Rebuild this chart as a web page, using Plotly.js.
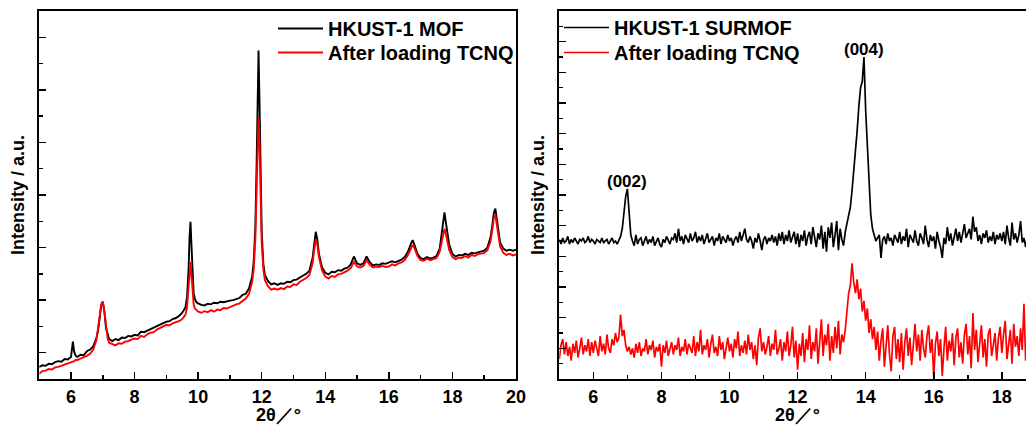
<!DOCTYPE html>
<html>
<head>
<meta charset="utf-8">
<script src="https://cdn.plot.ly/plotly-3.0.1.min.js"></script>
<style>html,body{margin:0;padding:0;background:#fff;}#chart{width:1026px;height:426px;}</style>
</head>
<body>
<div id="chart"></div>
<script>
// ---------- Left panel: HKUST-1 MOF powder ----------
const xMOF = [5.0,5.1,5.2,5.3,5.4,5.5,5.6,5.7,5.8,5.9,6.0,6.03,6.06,6.1,6.15,6.2,6.3,6.4,6.5,6.6,6.7,6.8,6.85,6.9,6.95,7.0,7.05,7.1,7.15,7.2,7.3,7.4,7.5,7.6,7.7,7.8,7.9,8.0,8.1,8.2,8.3,8.4,8.5,8.6,8.7,8.8,8.9,9.0,9.1,9.2,9.3,9.4,9.5,9.6,9.65,9.7,9.73,9.76,9.79,9.82,9.86,9.9,9.95,10.0,10.1,10.2,10.3,10.4,10.5,10.6,10.7,10.8,10.9,11.0,11.1,11.2,11.3,11.4,11.5,11.6,11.7,11.75,11.8,11.84,11.87,11.9,11.93,11.96,12.0,12.05,12.1,12.2,12.3,12.4,12.5,12.6,12.7,12.8,12.9,13.0,13.1,13.2,13.3,13.4,13.5,13.6,13.65,13.7,13.75,13.8,13.9,14.0,14.1,14.2,14.3,14.4,14.5,14.6,14.7,14.8,14.9,15.0,15.1,15.2,15.3,15.4,15.5,15.6,15.7,15.8,15.9,16.0,16.1,16.2,16.3,16.4,16.5,16.6,16.7,16.75,16.8,16.9,17.0,17.1,17.2,17.3,17.4,17.5,17.6,17.7,17.75,17.8,17.9,18.0,18.1,18.2,18.3,18.4,18.5,18.6,18.7,18.8,18.9,19.0,19.1,19.2,19.25,19.3,19.35,19.4,19.45,19.5,19.6,19.7,19.8,19.9,20.0];
const yMOF = [0.23,0.26,0.25,0.29,0.28,0.32,0.34,0.33,0.38,0.37,0.42,0.58,0.71,0.52,0.44,0.42,0.46,0.45,0.53,0.56,0.62,0.78,0.92,1.15,1.40,1.47,1.28,0.98,0.84,0.76,0.72,0.76,0.74,0.79,0.78,0.82,0.81,0.84,0.83,0.90,0.89,0.92,0.95,0.98,1.01,1.03,1.06,1.09,1.10,1.14,1.16,1.20,1.26,1.36,1.55,2.10,2.70,2.99,2.55,1.95,1.62,1.52,1.46,1.44,1.41,1.40,1.43,1.42,1.45,1.44,1.47,1.46,1.48,1.49,1.50,1.52,1.54,1.60,1.62,1.72,1.95,2.25,2.90,4.10,5.40,6.25,5.30,3.90,2.80,2.20,1.98,1.86,1.80,1.82,1.79,1.82,1.81,1.85,1.84,1.88,1.89,1.93,1.96,2.00,2.06,2.30,2.55,2.80,2.65,2.38,2.12,2.02,1.99,2.04,2.03,2.07,2.06,2.10,2.12,2.18,2.33,2.20,2.17,2.20,2.33,2.22,2.16,2.18,2.17,2.20,2.19,2.21,2.24,2.22,2.25,2.27,2.32,2.42,2.58,2.64,2.56,2.38,2.30,2.28,2.32,2.29,2.31,2.34,2.48,2.90,3.17,2.95,2.55,2.38,2.33,2.36,2.35,2.38,2.36,2.40,2.39,2.41,2.43,2.44,2.50,2.70,2.90,3.15,3.24,3.05,2.80,2.60,2.48,2.44,2.46,2.44,2.46];
const yMOFTCNQ = [0.10,0.15,0.16,0.19,0.18,0.22,0.23,0.25,0.27,0.29,0.31,0.32,0.33,0.34,0.36,0.36,0.39,0.41,0.44,0.48,0.56,0.74,0.92,1.18,1.42,1.47,1.30,0.96,0.78,0.69,0.66,0.64,0.68,0.67,0.71,0.72,0.75,0.77,0.76,0.82,0.80,0.85,0.88,0.89,0.94,0.97,1.00,1.03,1.02,1.06,1.08,1.10,1.14,1.22,1.36,1.75,2.10,2.23,1.98,1.62,1.42,1.34,1.30,1.28,1.26,1.29,1.27,1.31,1.28,1.32,1.31,1.35,1.34,1.37,1.39,1.42,1.44,1.49,1.53,1.62,1.85,2.10,2.65,3.60,4.50,4.98,4.50,3.50,2.60,2.10,1.88,1.76,1.70,1.72,1.70,1.73,1.71,1.76,1.75,1.80,1.79,1.85,1.88,1.92,1.98,2.20,2.45,2.64,2.56,2.32,2.06,1.95,1.91,1.96,1.94,1.99,2.00,2.03,2.06,2.11,2.23,2.14,2.12,2.15,2.26,2.17,2.12,2.14,2.13,2.15,2.13,2.14,2.18,2.16,2.20,2.22,2.26,2.36,2.50,2.55,2.50,2.34,2.26,2.25,2.29,2.26,2.28,2.30,2.42,2.72,2.86,2.74,2.45,2.32,2.28,2.31,2.30,2.34,2.31,2.36,2.34,2.37,2.39,2.40,2.45,2.62,2.82,3.05,3.12,2.95,2.72,2.52,2.40,2.36,2.38,2.35,2.37];

// ---------- Right panel: HKUST-1 SURMOF ----------
const xSURMOF = [5,5.05,5.1,5.15,5.2,5.25,5.3,5.35,5.4,5.45,5.5,5.55,5.6,5.65,5.7,5.75,5.8,5.85,5.9,5.95,
6,6.05,6.1,6.15,6.2,6.25,6.3,6.35,6.4,6.45,6.5,6.55,6.6,6.65,6.7,6.75,6.8,6.85,6.9,6.95,
7,7.05,7.1,7.15,7.2,7.25,7.3,7.35,7.4,7.45,7.5,7.55,7.6,7.65,7.7,7.75,7.8,7.85,7.9,7.95,
8,8.05,8.1,8.15,8.2,8.25,8.3,8.35,8.4,8.45,8.5,8.55,8.6,8.65,8.7,8.75,8.8,8.85,8.9,8.95,
9,9.05,9.1,9.15,9.2,9.25,9.3,9.35,9.4,9.45,9.5,9.55,9.6,9.65,9.7,9.75,9.8,9.85,9.9,9.95,
10,10.05,10.1,10.15,10.2,10.25,10.3,10.35,10.4,10.45,10.5,10.55,10.6,10.65,10.7,10.75,10.8,10.85,10.9,10.95,
11,11.05,11.1,11.15,11.2,11.25,11.3,11.35,11.4,11.45,11.5,11.55,11.6,11.65,11.7,11.75,11.8,11.85,11.9,11.95,
12,12.05,12.1,12.15,12.2,12.25,12.3,12.35,12.4,12.45,12.5,12.55,12.6,12.65,12.7,12.75,12.8,12.85,12.9,12.95,
13,13.05,13.1,13.15,13.2,13.25,13.3,13.35,13.4,13.45,13.5,13.55,13.6,13.65,13.7,13.75,13.8,13.85,13.9,13.95,
14,14.05,14.1,14.15,14.2,14.25,14.3,14.35,14.4,14.45,14.5,14.55,14.6,14.65,14.7,14.75,14.8,14.85,14.9,14.95,
15,15.05,15.1,15.15,15.2,15.25,15.3,15.35,15.4,15.45,15.5,15.55,15.6,15.65,15.7,15.75,15.8,15.85,15.9,15.95,
16,16.05,16.1,16.15,16.2,16.25,16.3,16.35,16.4,16.45,16.5,16.55,16.6,16.65,16.7,16.75,16.8,16.85,16.9,16.95,
17,17.05,17.1,17.15,17.2,17.25,17.3,17.35,17.4,17.45,17.5,17.55,17.6,17.65,17.7,17.75,17.8,17.85,17.9,17.95,
18,18.05,18.1,18.15,18.2,18.25,18.3,18.35,18.4,18.45,18.5,18.55,18.6,18.65,18.7,18.75];
const ySURMOF = [9.1,8.8,9.2,8.9,9.0,9.3,8.8,9.1,8.9,9.2,9.0,8.8,9.1,9.0,9.2,8.9,9.0,9.3,8.9,9.1,
9.0,8.8,9.1,9.0,8.9,9.2,8.9,9.0,9.1,8.8,9.0,9.2,8.9,9.0,8.8,9.1,9.3,9.8,10.8,11.9,
12.4,11.0,9.4,9.0,8.7,9.4,8.8,9.1,9.2,8.7,9.0,9.3,8.8,9.1,8.9,9.3,8.7,9.0,9.2,8.8,
8.6,9.1,8.9,9.3,9.0,8.8,9.2,9.1,9.5,8.9,9.8,9.0,9.3,8.8,9.4,9.1,8.9,9.5,9.0,9.2,
9.6,8.9,9.3,9.0,9.4,8.8,9.2,9.5,8.9,9.1,9.3,8.7,9.2,9.0,9.5,8.8,9.3,9.1,8.9,9.4,
9.0,9.2,8.7,9.1,9.3,8.9,9.6,9.0,9.4,9.8,9.1,8.9,9.3,9.0,8.5,9.2,8.9,9.5,9.0,8.4,
9.1,9.3,8.8,9.2,9.0,9.4,8.9,9.3,8.7,9.5,9.0,9.6,8.8,9.4,9.0,9.7,8.9,9.3,9.6,8.8,
9.5,8.6,9.4,9.0,9.7,8.7,9.3,9.6,8.8,9.9,9.2,8.6,9.5,9.1,10.0,8.5,9.6,8.3,9.9,9.2,
10.2,8.6,9.4,10.3,8.4,9.8,9.1,8.7,9.6,10.1,10.6,11.2,12.3,13.5,14.8,16.2,17.8,19.0,19.4,21.0,
17.5,15.0,12.4,10.7,9.8,9.3,9.0,9.2,9.4,7.9,9.1,9.3,8.8,9.5,9.0,9.2,8.7,9.4,9.1,8.9,
9.6,8.8,9.3,9.0,9.8,8.6,9.4,9.1,8.9,9.7,9.0,8.7,9.5,9.2,8.8,10.0,9.1,8.6,9.4,9.0,
9.3,8.5,9.6,9.0,8.6,7.9,9.2,8.8,9.9,9.0,9.5,8.7,9.3,9.8,9.0,9.6,8.9,9.4,10.1,9.2,
9.5,9.8,9.1,10.6,9.6,9.9,9.0,9.4,8.8,9.5,9.2,9.7,8.9,9.3,9.0,9.6,8.8,9.4,9.1,9.5,
9.0,9.6,8.8,10.0,9.2,8.7,10.2,9.1,9.5,8.9,9.4,10.3,8.9,9.2,8.6,9.3];
const ySURMOFTCNQ = [1.3,2.2,2.6,1.6,2.4,1.5,2.1,1.2,2.3,1.7,2.5,1.4,2.0,2.7,1.6,2.2,1.8,2.6,1.5,2.4,
1.7,2.5,2.0,1.5,2.8,1.8,2.3,1.6,2.9,2.0,1.7,2.6,2.2,3.0,2.4,2.7,4.2,2.8,3.2,2.2,
1.8,2.1,1.6,2.0,1.4,2.3,1.7,2.4,1.5,2.0,1.8,2.6,1.6,2.2,1.9,2.5,1.4,2.1,1.8,2.3,
0.8,2.2,1.7,2.5,1.5,2.0,2.4,1.6,2.2,1.9,2.7,1.5,2.1,1.8,2.6,1.6,2.3,2.0,1.7,2.8,
1.5,2.4,1.8,3.2,1.6,2.2,1.9,2.6,1.4,2.3,2.9,1.7,2.1,1.5,2.8,1.9,2.4,1.3,2.2,2.7,
1.8,2.3,1.4,2.6,2.0,3.1,1.5,2.2,1.7,2.5,1.6,2.9,1.9,2.4,1.3,2.2,0.9,2.7,3.3,1.8,
2.4,1.6,2.1,2.8,1.5,2.3,1.9,3.2,1.6,2.0,2.6,1.2,2.4,1.8,3.1,1.5,2.2,3.4,1.4,2.5,
0.6,2.3,1.5,3.0,1.1,2.6,1.9,3.5,1.3,2.4,1.8,3.3,1.0,2.7,3.9,1.5,2.9,2.2,3.6,1.2,
2.8,1.7,3.4,2.0,3.8,1.6,2.9,2.4,3.2,4.4,5.6,6.1,7.55,6.3,5.6,6.5,5.2,5.9,4.4,5.1,
3.8,4.6,3.0,3.9,2.6,3.4,1.9,3.1,1.2,2.5,3.3,0.8,2.2,3.5,1.6,0.5,2.8,3.4,1.3,2.6,
1.1,3.0,0.6,2.4,3.3,1.5,2.7,0.9,2.2,3.6,1.8,2.9,1.2,3.2,2.0,1.4,2.8,3.5,1.7,2.6,
0.1,2.3,3.1,1.5,2.6,0.2,2.0,3.4,1.2,2.5,1.8,3.0,0.9,2.7,3.3,1.4,2.4,1.0,2.9,3.6,
1.6,2.8,0.7,4.3,1.9,3.2,1.1,2.5,3.5,1.4,2.6,0.8,2.9,3.3,1.5,2.2,3.0,1.2,2.7,3.4,
1.7,2.9,3.8,1.3,2.4,3.2,1.0,3.6,2.1,2.8,1.5,3.3,1.9,4.9,1.2,2.6];

// Tick labels, axis titles and peak labels
const tickVals = [6, 8, 10, 12, 14, 16, 18, 20];
const xTitle = '2θ／°';
const yTitle = 'Intensity / a.u.';
const peakLabels = ['(002)', '(004)'];
const peakPositions = [7.0, 13.95];
const seriesNames = ['HKUST-1 MOF', 'After loading TCNQ', 'HKUST-1 SURMOF', 'After loading TCNQ'];

const FONT = 'Liberation Sans, Arial, Helvetica, sans-serif';
const W = 1026, H = 426;
const px = v => v / W;
const py = v => (H - v) / H;

const traces = [
  {x: xMOF, y: yMOF, name: seriesNames[0], type: 'scatter', mode: 'lines', line: {color: '#000000', width: 1.9}, xaxis: 'x', yaxis: 'y', legend: 'legend'},
  {x: xMOF, y: yMOFTCNQ, name: seriesNames[1], type: 'scatter', mode: 'lines', line: {color: '#ff0000', width: 1.9}, xaxis: 'x', yaxis: 'y', legend: 'legend2'},
  {x: xSURMOF, y: ySURMOF, name: seriesNames[2], type: 'scatter', mode: 'lines', line: {color: '#000000', width: 1.7}, xaxis: 'x2', yaxis: 'y2', legend: 'legend3'},
  {x: xSURMOF, y: ySURMOFTCNQ, name: seriesNames[3], type: 'scatter', mode: 'lines', line: {color: '#ff0000', width: 1.7}, xaxis: 'x2', yaxis: 'y2', legend: 'legend4'}
];

const tickFont = {family: FONT, size: 18, color: '#000', weight: 'bold'};
function xAxis(domain, range, anchor) {
  return {
    domain: domain, range: range, anchor: anchor,
    tickmode: 'array', tickvals: tickVals,
    ticks: 'inside', ticklen: 7, tickwidth: 1.5, tickcolor: '#000',
    minor: {dtick: 1, tick0: 0, ticks: 'inside', ticklen: 4, tickwidth: 1.5, tickcolor: '#000', showgrid: false},
    showline: true, linewidth: 2, linecolor: '#000', mirror: true,
    showgrid: false, zeroline: false,
    tickfont: tickFont
  };
}
function yAxis(domain, range, tick0, dtick, anchor, mirror) {
  return {
    domain: domain, range: range, anchor: anchor,
    tickmode: 'linear', tick0: tick0, dtick: dtick,
    ticks: 'inside', ticklen: 7, tickwidth: 1.5, tickcolor: '#000',
    minor: {dtick: dtick / 2, tick0: 0, ticks: 'inside', ticklen: 4, tickwidth: 1.5, tickcolor: '#000', showgrid: false},
    showticklabels: false,
    showline: true, linewidth: 2, linecolor: '#000', mirror: mirror,
    showgrid: false, zeroline: false,
    title: {text: yTitle, font: {family: FONT, size: 18, color: '#000', weight: 'bold'}, standoff: 8}
  };
}

const yDom = [py(379), py(11)];
const legendFont = {family: FONT, size: 20, color: '#000', weight: 'bold'};
function legendAt(x, yTop) {
  return {x: px(x), y: py(yTop), xanchor: 'left', yanchor: 'top', font: legendFont, bgcolor: 'rgba(0,0,0,0)', borderwidth: 0, tracegroupgap: 0, itemwidth: 45};
}

function peakY(xv) {
  let best = -Infinity;
  xSURMOF.forEach((x, i) => { if (Math.abs(x - xv) < 0.08) best = Math.max(best, ySURMOF[i]); });
  return best;
}

const peakAnnotations = peakLabels.map((t, i) => ({
  text: t, x: peakPositions[i], y: peakY(peakPositions[i]), xref: 'x2', yref: 'y2',
  showarrow: false, xanchor: 'center', yanchor: 'bottom', yshift: -4,
  font: {family: FONT, size: 17, color: '#000', weight: 'bold'}
}));
const xTitleAnnotations = [278, 797].map(cx => ({
  text: xTitle, x: px(cx), y: 0, xref: 'paper', yref: 'paper',
  showarrow: false, xanchor: 'center', yanchor: 'bottom', borderpad: 0,
  font: {family: FONT, size: 18, color: '#000', weight: 'bold'}
}));

const layout = {
  width: W, height: H,
  margin: {l: 0, r: 0, t: 0, b: 0},
  paper_bgcolor: '#fff', plot_bgcolor: '#fff',
  font: {family: FONT, color: '#000'},
  xaxis: xAxis([px(39.2), px(516)], [5, 20], 'y'),
  yaxis: yAxis(yDom, [0, 7], 0.5, 1, 'x', true),
  xaxis2: xAxis([px(559.3), 1], [5, 18.71], 'y2'),
  yaxis2: yAxis(yDom, [0, 24], 0, 2, 'x2', false),
  legend: legendAt(273, 9),
  legend2: legendAt(273, 33),
  legend3: legendAt(559, 8),
  legend4: legendAt(559, 33),
  annotations: peakAnnotations.concat(xTitleAnnotations),
  showlegend: true
};

Plotly.newPlot('chart', traces, layout, {displayModeBar: false, staticPlot: true});
</script>
</body>
</html>
